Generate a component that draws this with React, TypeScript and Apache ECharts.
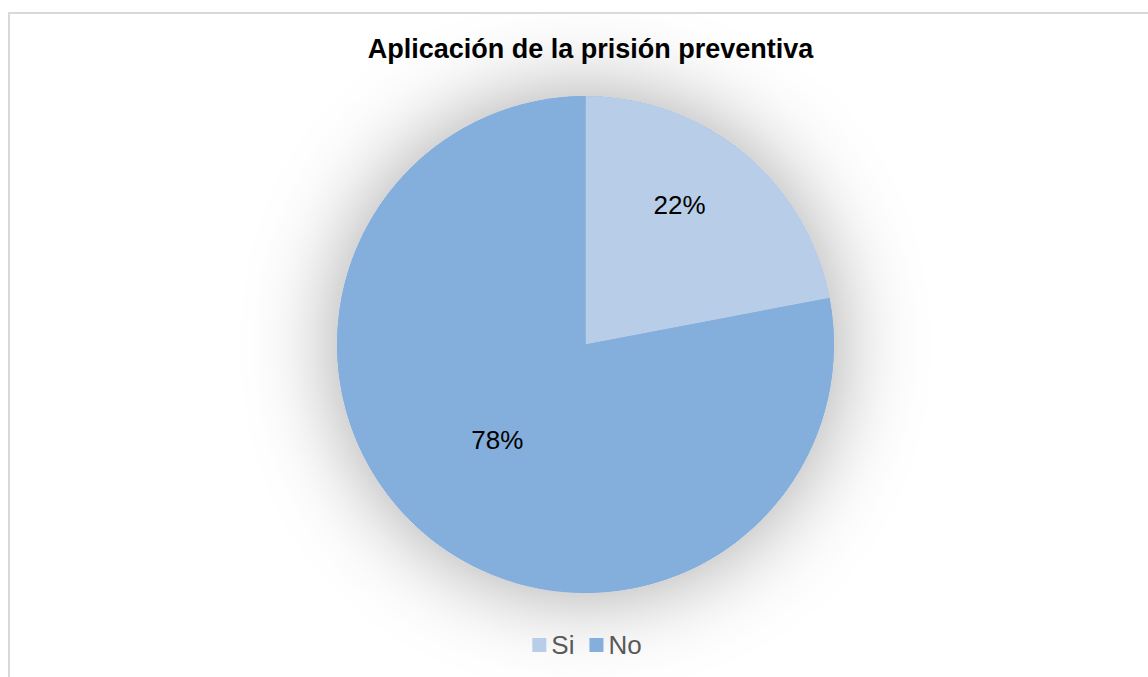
import React, { useEffect, useRef } from "react";
import * as echarts from "echarts";

const titleText = "Aplicación de la prisión preventiva";
const categories = ["Si", "No"];
const values = [22, 78];
const colors = ["#B7CDE8", "#84AEDB"];
const labelShift: [number, number][] = [[13, -41], [-7, -3]];

const FONT = "'Liberation Sans', Arial, sans-serif";

export default function App() {
  const ref = useRef<HTMLDivElement>(null);
  useEffect(() => {
    if (!ref.current) return;
    const chart = echarts.init(ref.current, undefined, { renderer: "svg" });
    chart.setOption({
      animation: false,
      backgroundColor: "#ffffff",
      title: {
        text: titleText,
        left: 575.5,
        textAlign: "center",
        top: 16,
        textStyle: { fontFamily: FONT, fontSize: 27, fontWeight: "bold", color: "#000000" },
      },
      legend: {
        data: categories,
        bottom: 49,
        left: "center",
        itemWidth: 14,
        itemHeight: 14,
        itemGap: 15,
        icon: "rect",
        textStyle: { fontFamily: FONT, fontSize: 26, color: "#595959" },
      },
      series: [
        {
          type: "pie",
          silent: true,
          center: [575.5, 330.5],
          radius: 248.5,
          z: 1,
          label: { show: false },
          labelLine: { show: false },
          data: [{ name: "shadow", value: 1 }],
          itemStyle: {
            color: "#84AEDB",
            shadowBlur: 90,
            shadowColor: "rgba(0,0,0,0.36)",
          },
        },
        {
          type: "pie",
          center: [575.5, 330.5],
          radius: 248.5,
          startAngle: 90,
          clockwise: true,
          z: 2,
          data: categories.map((c, i) => ({
            name: c,
            value: values[i],
            itemStyle: { color: colors[i] },
          })),
          label: {
            show: true,
            position: "inside",
            formatter: "{d}%",
            fontFamily: FONT,
            fontSize: 26,
            color: "#000000",
          },
          labelLine: { show: false },
          labelLayout: (p: any) => ({
            dx: labelShift[p.dataIndex][0],
            dy: labelShift[p.dataIndex][1],
          }),
        },
      ],
    });
    return () => chart.dispose();
  }, []);
  return (
    <div style={{ position: "fixed", inset: 0, overflow: "hidden", background: "#fff" }}>
      <div
        style={{
          position: "absolute",
          left: 8,
          top: 12,
          width: 1156,
          height: 700,
          borderLeft: "2px solid #d9d9d9",
          borderTop: "2px solid #d9d9d9",
          boxSizing: "border-box",
        }}
      >
        <div ref={ref} style={{ width: 1154, height: 698 }} />
      </div>
    </div>
  );
}
